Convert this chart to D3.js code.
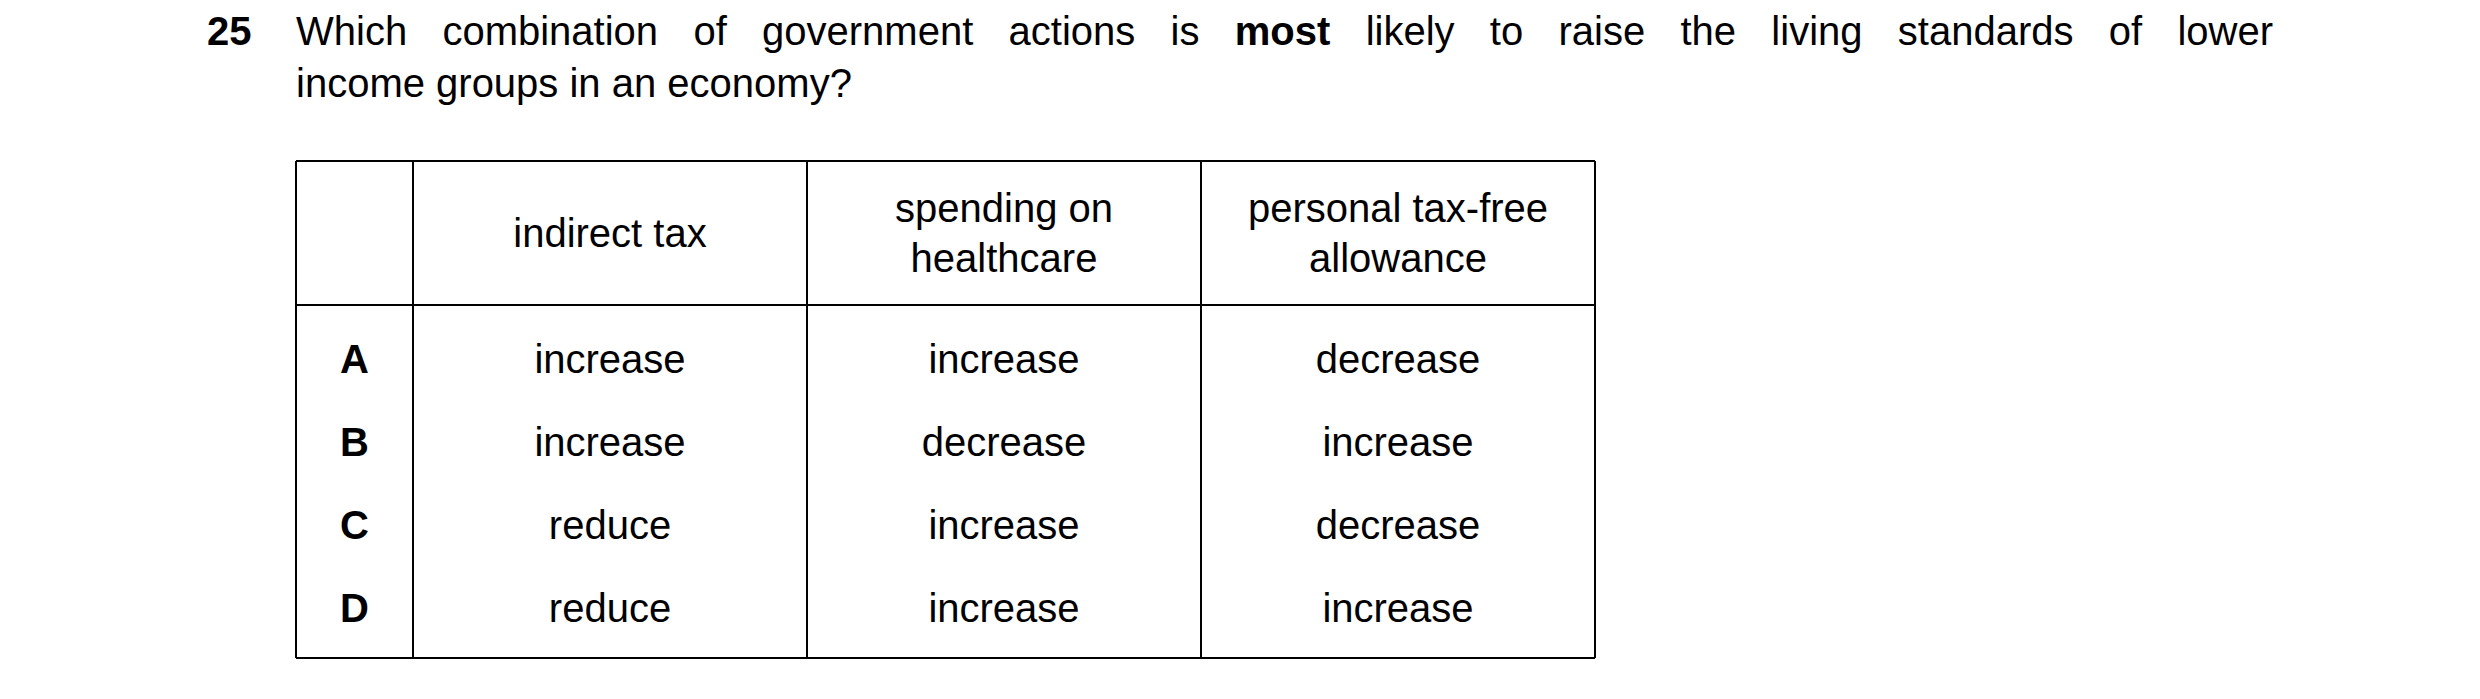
<!DOCTYPE html>
<html><head><meta charset="utf-8">
<script src="https://cdn.jsdelivr.net/npm/d3@7"></script>
<style>body{margin:0;background:#fff}svg{display:block}text{font-family:"Liberation Sans",Arial,sans-serif;fill:#000}</style>
</head><body><svg id="c" width="2480" height="699"></svg>
<script>
const questionNumber = "25";
const questionLine1 = ["Which","combination","of","government","actions","is","most","likely","to","raise","the","living","standards","of","lower"];
const boldWords = ["most"];
const questionLine2 = "income groups in an economy?";
const columnHeaders = [[""],["indirect tax"],["spending on","healthcare"],["personal tax-free","allowance"]];
const rowLabels = ["A","B","C","D"];
const indirectTax = ["increase","increase","reduce","reduce"];
const healthSpending = ["increase","decrease","increase","increase"];
const taxFreeAllowance = ["decrease","increase","decrease","increase"];

(function(){
const svg = d3.select("#c");
const fs = 40;
svg.append("text").attr("x",207).attr("y",45).attr("font-size",fs).attr("font-weight","bold").text(questionNumber);
const x0 = 296, x1 = 2273;
const tmp = questionLine1.map(w => svg.append("text").attr("font-size",fs).attr("font-weight",boldWords.includes(w)?"bold":"normal").attr("y",45).text(w));
const widths = tmp.map(t => t.node().getComputedTextLength());
const gap = (x1 - x0 - d3.sum(widths)) / (questionLine1.length - 1);
let cx = x0;
tmp.forEach((t,i)=>{ t.attr("x",cx); cx += widths[i] + gap; });
svg.append("text").attr("x",296).attr("y",97).attr("font-size",fs).text(questionLine2);

const colEdges = [296,413,807,1201,1595];
const tTop = 161, headBottom = 305, tBottom = 658;
const y = d3.scaleBand().domain(rowLabels).range([headBottom+12, tBottom-8]);
const g = svg.append("g");
const lw = 2;
[tTop, headBottom, tBottom].forEach(v => g.append("line").attr("x1",colEdges[0]).attr("x2",colEdges[4]).attr("y1",v).attr("y2",v).attr("stroke","#000").attr("stroke-width",lw));
colEdges.forEach(v => g.append("line").attr("x1",v).attr("x2",v).attr("y1",tTop).attr("y2",tBottom).attr("stroke","#000").attr("stroke-width",lw));
const mid = i => (colEdges[i]+colEdges[i+1])/2;
const hmid = (tTop+headBottom)/2;
columnHeaders.forEach((lines,i) => {
  lines.forEach((l,j) => {
    const yy = hmid + (j - (lines.length-1)/2) * 50 + 14;
    g.append("text").attr("x",mid(i)).attr("y",yy).attr("text-anchor","middle").attr("font-size",fs).text(l);
  });
});
const cols = [rowLabels, indirectTax, healthSpending, taxFreeAllowance];
cols.forEach((arr,i) => {
  arr.forEach((v,r) => {
    g.append("text").attr("x",mid(i)).attr("y",y(rowLabels[r])+y.bandwidth()/2+14)
      .attr("text-anchor","middle").attr("font-size",fs).attr("font-weight",i===0?"bold":"normal").text(v);
  });
});
})();
</script></body></html>
